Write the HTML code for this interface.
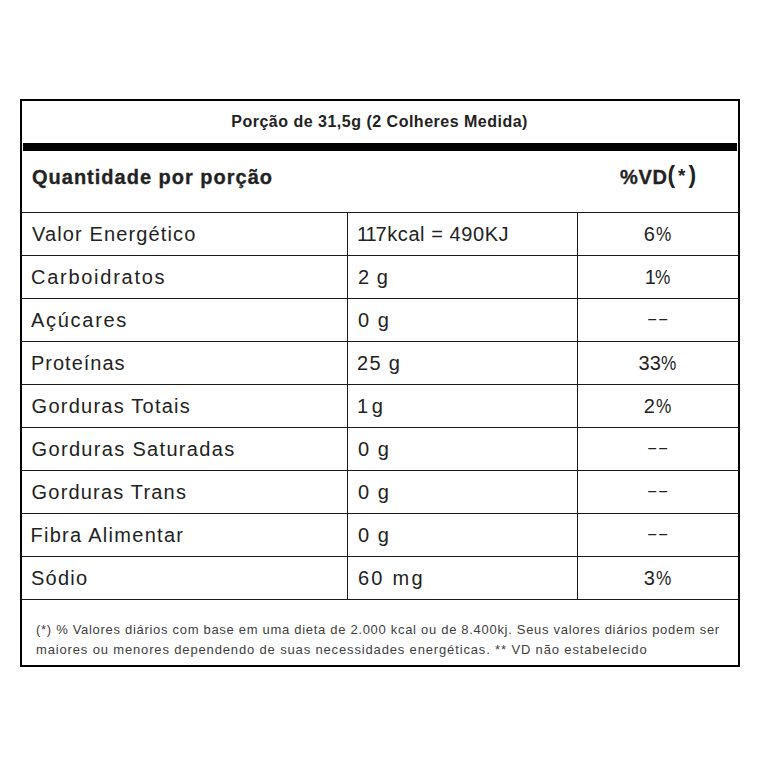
<!DOCTYPE html>
<html lang="pt-BR">
<head>
<meta charset="utf-8">
<title>Tabela Nutricional</title>
<style>
  html, body { margin: 0; padding: 0; background: #ffffff; }
  body { width: 783px; height: 783px; position: relative; overflow: hidden;
         font-family: "Liberation Sans", sans-serif; color: #222222; }
  .box { position: absolute; left: 20px; top: 99px; width: 716px; height: 564px;
         border: 2px solid #000; background: #fff; }
  .title { position: absolute; left: 0; top: 0; width: 716px; height: 42px; line-height: 42px;
           text-align: center; font-size: 16px; font-weight: bold; white-space: nowrap; }
  .title .t { position: relative; top: 0.3px; }
  .bar { position: absolute; left: 1px; top: 42px; width: 714px; height: 8px; background: #000; }
  .head { position: absolute; left: 0; top: 50px; width: 716px; height: 61px; line-height: 52px;
          font-weight: bold; font-size: 20px; white-space: nowrap; -webkit-text-stroke: 0.3px #222222; }
  .head .par { font-size: 23px; line-height: 0; vertical-align: 1px; -webkit-text-stroke: 0; }
  .head .ast { font-size: 19px; vertical-align: 1px; }
  .head .c1 { position: absolute; left: 10px; top: 0; }
  .head .c3 { position: absolute; left: 556px; top: 0; width: 160px; text-align: center; }
  .row { position: absolute; left: 0; width: 716px; height: 42px; line-height: 42px;
         border-top: 1px solid #1a1a1a; font-size: 20px; white-space: nowrap; }
  .row .c1 { position: absolute; left: 10px; top: 0; }
  .row .c2 { position: absolute; left: 325px; top: 0; height: 42px; width: 229px; border-left: 1px solid #1a1a1a; }
  .row .c2 .w { position: absolute; left: 10px; top: 0; }
  .row .c3 { position: absolute; left: 555px; top: 0; height: 42px; width: 160px; border-left: 1px solid #1a1a1a; text-align: center; }
  .row .c3 .nd { display: inline-block; transform: translateY(-0.5px) scale(1.62, 0.7); }
  .row .c3 .pc { display: inline-block; transform: scaleX(0.86); transform-origin: 0 50%; margin-right: -2.4px; }
  .foot { position: absolute; left: 0; top: 498px; width: 716px; height: 66px; border-top: 1px solid #1a1a1a;
          font-size: 13px; line-height: 20px; color: #3d3d3d; white-space: nowrap; }
  .foot div { position: absolute; left: 15px; }
</style>
</head>
<body>
<div class="box">
  <div class="title"><span class="t" id="title" style="letter-spacing:0.50px;position:relative;left:-0.40px">Porção de 31,5g (2 Colheres Medida)</span></div>
  <div class="bar"></div>
  <div class="head"><span class="c1"><span class="t" id="h1" style="letter-spacing:1.00px">Quantidade por porção</span></span><span class="c3"><span class="t" id="h3a" style="letter-spacing:0.70px;position:relative;left:1.60px">%VD</span><span class="t par" id="h3b" style="letter-spacing:2.90px;position:relative;left:1.40px">(<span class="ast">*</span>)</span></span></div>
  <div class="row" style="top:111px"><span class="c1"><span class="t" id="r0c1" style="letter-spacing:1.13px">Valor Energético</span></span><div class="c2"><span class="w"><span class="t" id="r0c2" style="letter-spacing:0.57px;position:relative;left:-1.00px"><span style="letter-spacing:-1.1px">11</span>7kcal = 490KJ</span></span></div><div class="c3"><span class="t" id="r0c3" style="letter-spacing:1.20px;position:relative;left:0.30px">6<span class="pc">%</span></span></div></div>
  <div class="row" style="top:154px"><span class="c1"><span class="t" id="r1c1" style="letter-spacing:1.73px;position:relative;left:-1.00px">Carboidratos</span></span><div class="c2"><span class="w"><span class="t" id="r1c2" style="letter-spacing:1.00px">2 g</span></span></div><div class="c3"><span class="t" id="r1c3" style="letter-spacing:-0.80px;position:relative;left:-0.80px">1<span class="pc">%</span></span></div></div>
  <div class="row" style="top:197px"><span class="c1"><span class="t" id="r2c1" style="letter-spacing:1.71px;position:relative;left:-1.00px">Açúcares</span></span><div class="c2"><span class="w"><span class="t" id="r2c2" style="letter-spacing:1.50px">0 g</span></span></div><div class="c3"><span class="t nd" id="r2c3">--</span></div></div>
  <div class="row" style="top:240px"><span class="c1"><span class="t" id="r3c1" style="letter-spacing:1.00px;position:relative;left:-1.00px">Proteínas</span></span><div class="c2"><span class="w"><span class="t" id="r3c2" style="letter-spacing:1.33px;position:relative;left:-1.00px">25 g</span></span></div><div class="c3"><span class="t" id="r3c3" style="letter-spacing:0.20px;position:relative;left:-0.50px">33<span class="pc">%</span></span></div></div>
  <div class="row" style="top:283px"><span class="c1"><span class="t" id="r4c1" style="letter-spacing:1.24px;position:relative;left:-0.40px">Gorduras Totais</span></span><div class="c2"><span class="w"><span class="t" id="r4c2" style="letter-spacing:-1.00px;position:relative;left:-1.00px">1 g</span></span></div><div class="c3"><span class="t" id="r4c3" style="letter-spacing:1.20px;position:relative;left:0.30px">2<span class="pc">%</span></span></div></div>
  <div class="row" style="top:326px"><span class="c1"><span class="t" id="r5c1" style="letter-spacing:1.32px;position:relative;left:-0.40px">Gorduras Saturadas</span></span><div class="c2"><span class="w"><span class="t" id="r5c2" style="letter-spacing:1.50px">0 g</span></span></div><div class="c3"><span class="t nd" id="r5c3">--</span></div></div>
  <div class="row" style="top:369px"><span class="c1"><span class="t" id="r6c1" style="letter-spacing:1.18px;position:relative;left:-0.40px">Gorduras Trans</span></span><div class="c2"><span class="w"><span class="t" id="r6c2" style="letter-spacing:1.50px">0 g</span></span></div><div class="c3"><span class="t nd" id="r6c3">--</span></div></div>
  <div class="row" style="top:412px"><span class="c1"><span class="t" id="r7c1" style="letter-spacing:1.29px;position:relative;left:-1.60px">Fibra Alimentar</span></span><div class="c2"><span class="w"><span class="t" id="r7c2" style="letter-spacing:1.50px">0 g</span></span></div><div class="c3"><span class="t nd" id="r7c3">--</span></div></div>
  <div class="row" style="top:455px"><span class="c1"><span class="t" id="r8c1" style="letter-spacing:1.25px;position:relative;left:-1.00px">Sódio</span></span><div class="c2"><span class="w"><span class="t" id="r8c2" style="letter-spacing:2.25px">60 mg</span></span></div><div class="c3"><span class="t" id="r8c3" style="letter-spacing:1.20px;position:relative;left:0.30px">3<span class="pc">%</span></span></div></div>
  <div class="foot">
    <div style="top:19.5px"><span class="t" id="f1" style="letter-spacing:0.70px;position:relative;left:-1.00px">(*) % Valores diários com base em uma dieta de 2.000 kcal ou de 8.400kj. Seus valores diários podem ser</span></div>
    <div style="top:39.5px"><span class="t" id="f2" style="letter-spacing:0.85px;position:relative;left:-1.00px">maiores ou menores dependendo de suas necessidades energéticas. ** VD não estabelecido</span></div>
  </div>
</div>
</body>
</html>
